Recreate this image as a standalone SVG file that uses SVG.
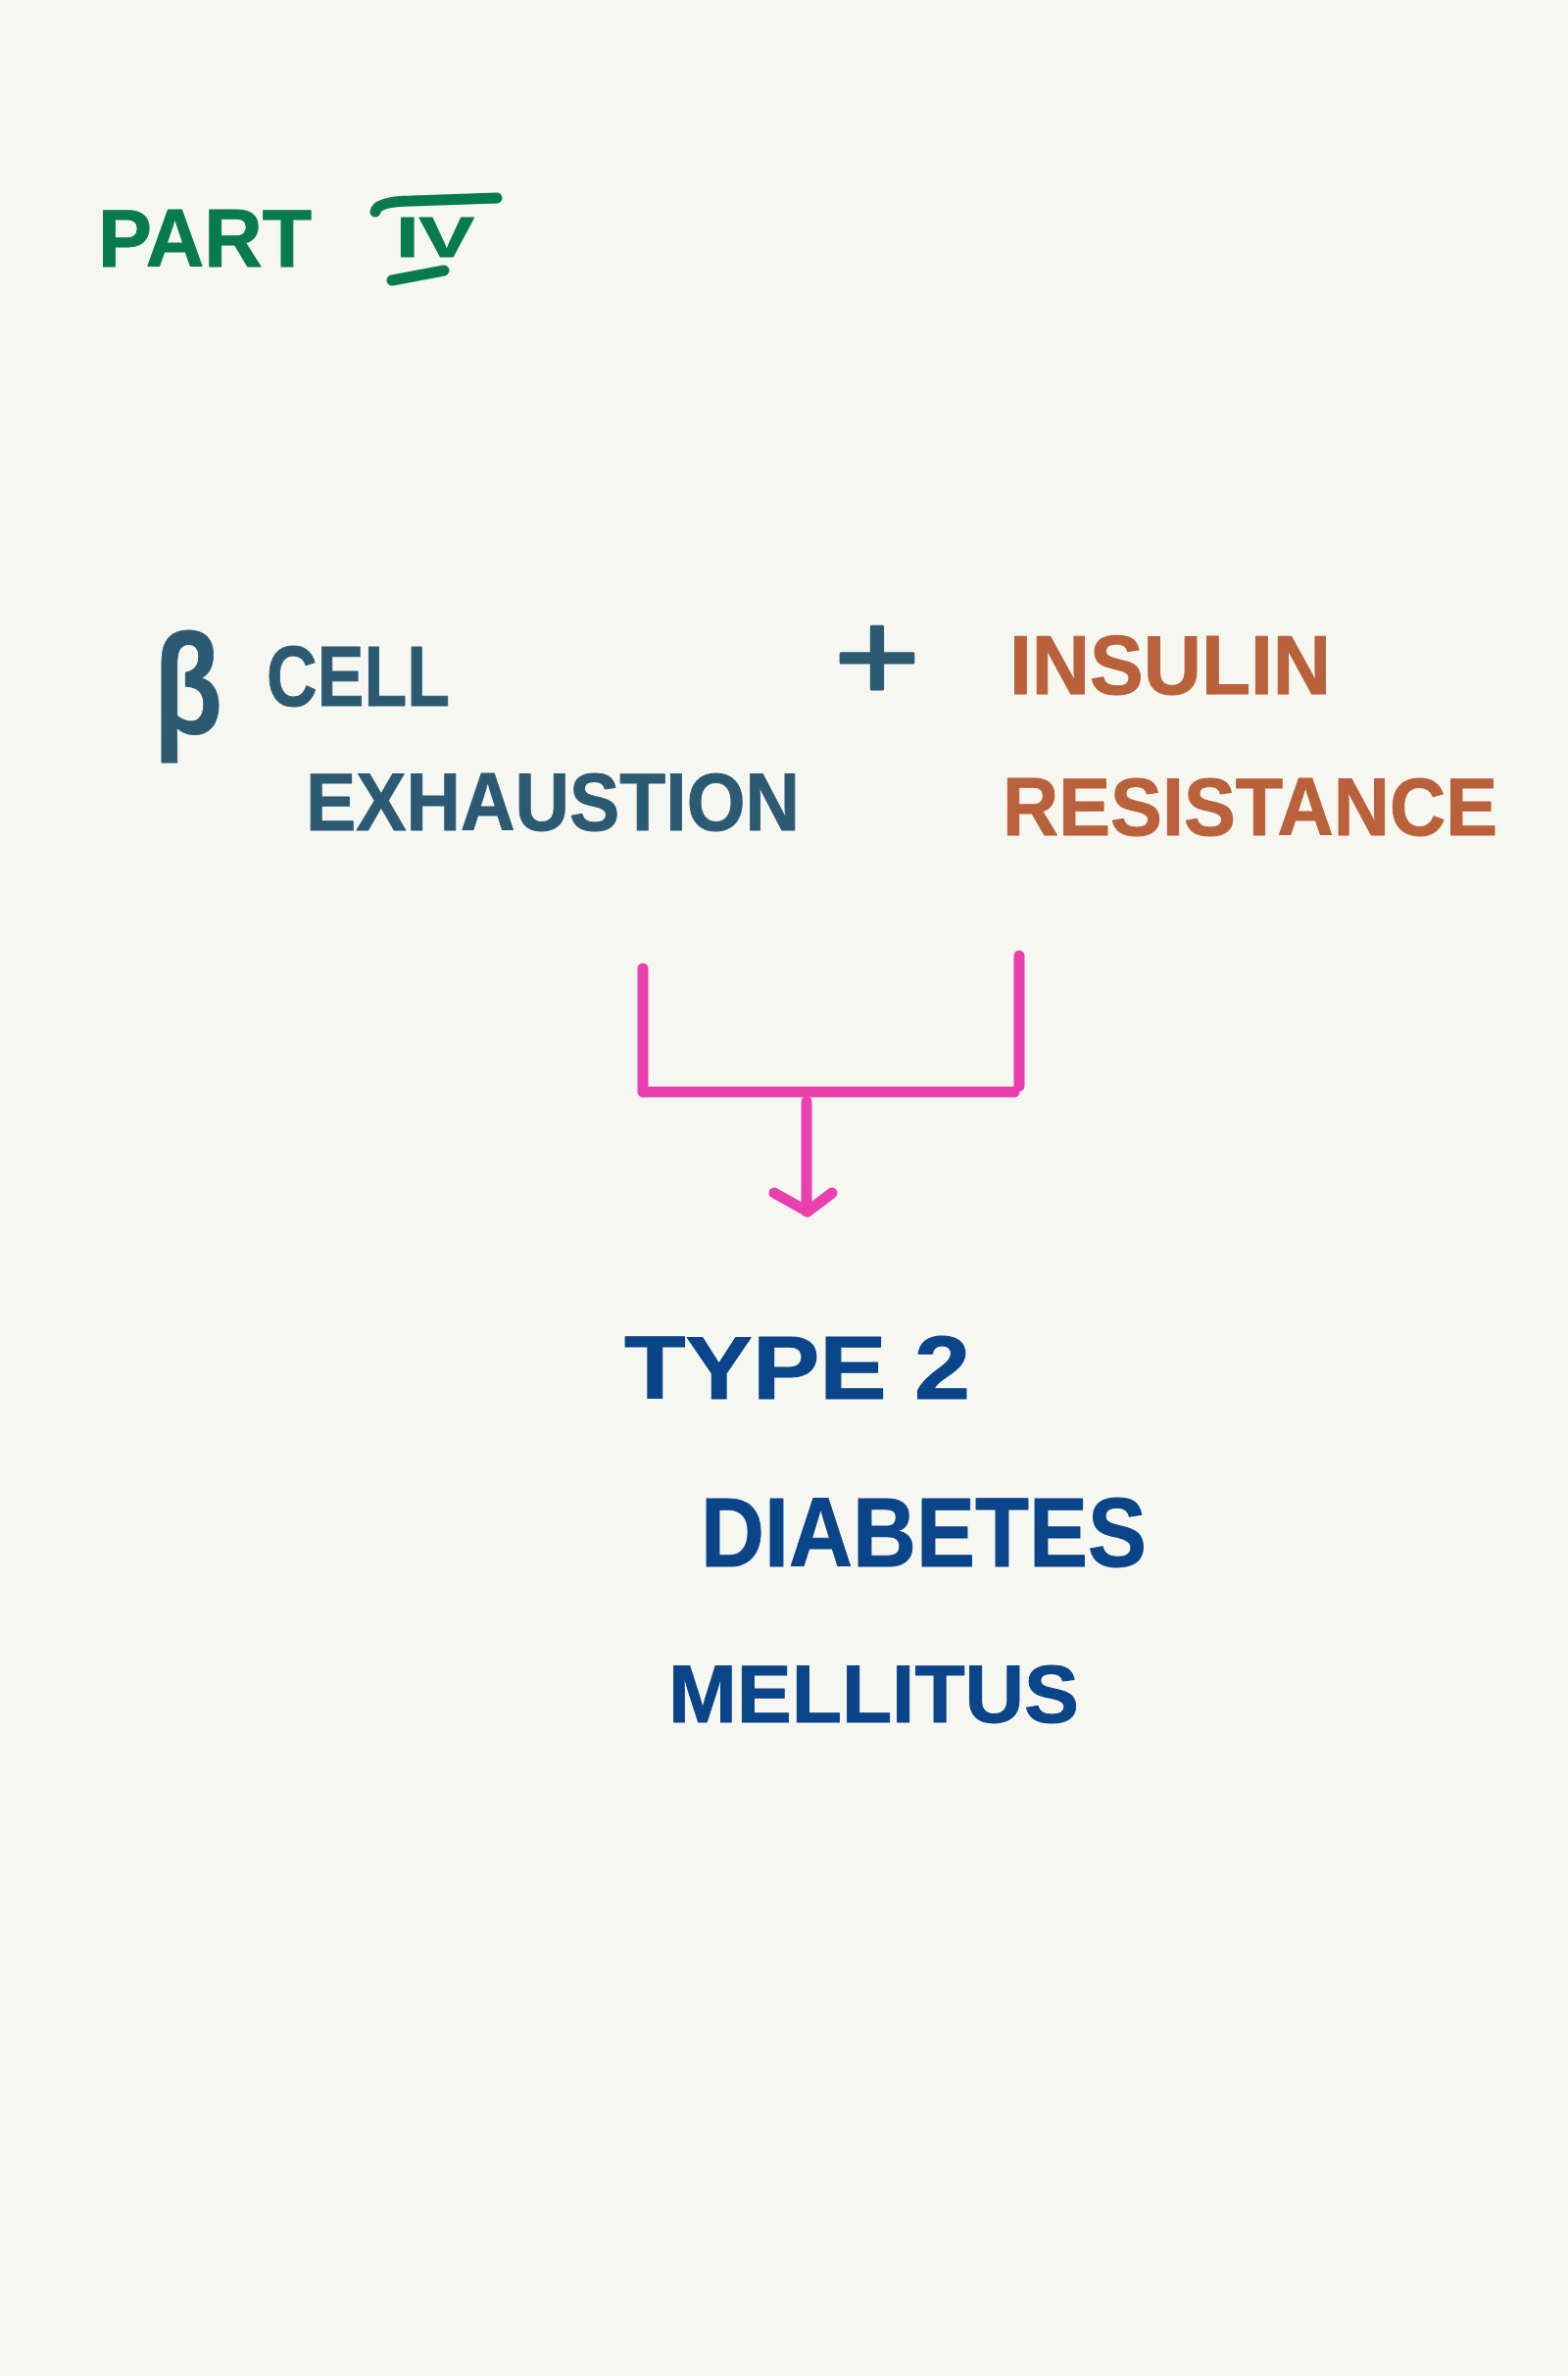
<svg xmlns="http://www.w3.org/2000/svg" width="1600" height="2424" viewBox="0 0 1600 2424">
  <style>
    .hand { font-family: "Liberation Sans", Arial, sans-serif; font-weight: bold; stroke-width: 1; stroke-linejoin: round; }
    .thin { font-weight: normal; stroke-width: 3; }
    .green { fill: #077B4E; stroke: #077B4E; }
    .slate { fill: #2C5A73; stroke: #2C5A73; }
    .rust { fill: #B9613A; stroke: #B9613A; }
    .navy { fill: #0A4489; stroke: #0A4489; }
    .pen { fill: none; stroke-width: 11; stroke-linecap: round; stroke-linejoin: round; }
    .pink { stroke: #EA3FAE; }
  </style>

  <rect x="0" y="0" width="1600" height="2424" fill="#F7F7F2"/>

  <!-- Heading -->
  <g id="heading">
    <text class="hand green" x="100" y="272" font-size="84" textLength="218" lengthAdjust="spacingAndGlyphs">PART</text>
    <text class="hand green" x="404" y="262" font-size="58" textLength="80" lengthAdjust="spacingAndGlyphs">IV</text>
    <path class="pen" stroke="#077B4E" d="M383 216 Q385 205 420 205 L507 202"/>
    <path class="pen" stroke="#077B4E" d="M400 286 L453 276"/>
  </g>

  <!-- Cause 1 -->
  <g id="beta-cell-exhaustion">
    <text class="hand slate" x="157" y="748" font-size="145" textLength="70" lengthAdjust="spacingAndGlyphs">β</text>
    <text class="hand slate" x="272" y="720" font-size="88" textLength="187" lengthAdjust="spacingAndGlyphs">CELL</text>
    <text class="hand slate" x="312" y="847" font-size="84" textLength="504" lengthAdjust="spacingAndGlyphs">EXHAUSTION</text>
  </g>

  <!-- Plus sign -->
  <g id="plus">
    <text class="hand thin slate" x="851" y="714" font-size="130" textLength="88" lengthAdjust="spacingAndGlyphs">+</text>
  </g>

  <!-- Cause 2 -->
  <g id="insulin-resistance">
    <text class="hand rust" x="1030" y="708" font-size="85" textLength="328" lengthAdjust="spacingAndGlyphs">INSULIN</text>
    <text class="hand rust" x="1023" y="852" font-size="84" textLength="505" lengthAdjust="spacingAndGlyphs">RESISTANCE</text>
  </g>

  <!-- Bracket joining both causes, arrow down to the outcome -->
  <g id="connectors">
    <path class="pen pink" d="M656 988 L656 1114 L1035 1114"/>
    <path class="pen pink" d="M1040 975 L1040 1108"/>
    <path class="pen pink" d="M823 1124 L823 1236"/>
    <path class="pen pink" d="M790 1217 L824 1236 L849 1217"/>
  </g>

  <!-- Outcome -->
  <g id="type-2-diabetes-mellitus">
    <text class="hand navy" x="637" y="1427" font-size="90" textLength="353" lengthAdjust="spacingAndGlyphs">TYPE 2</text>
    <text class="hand navy" x="715" y="1598" font-size="100" textLength="455" lengthAdjust="spacingAndGlyphs">DIABETES</text>
    <text class="hand navy" x="682" y="1757" font-size="84" textLength="419" lengthAdjust="spacingAndGlyphs">MELLITUS</text>
  </g>
</svg>
